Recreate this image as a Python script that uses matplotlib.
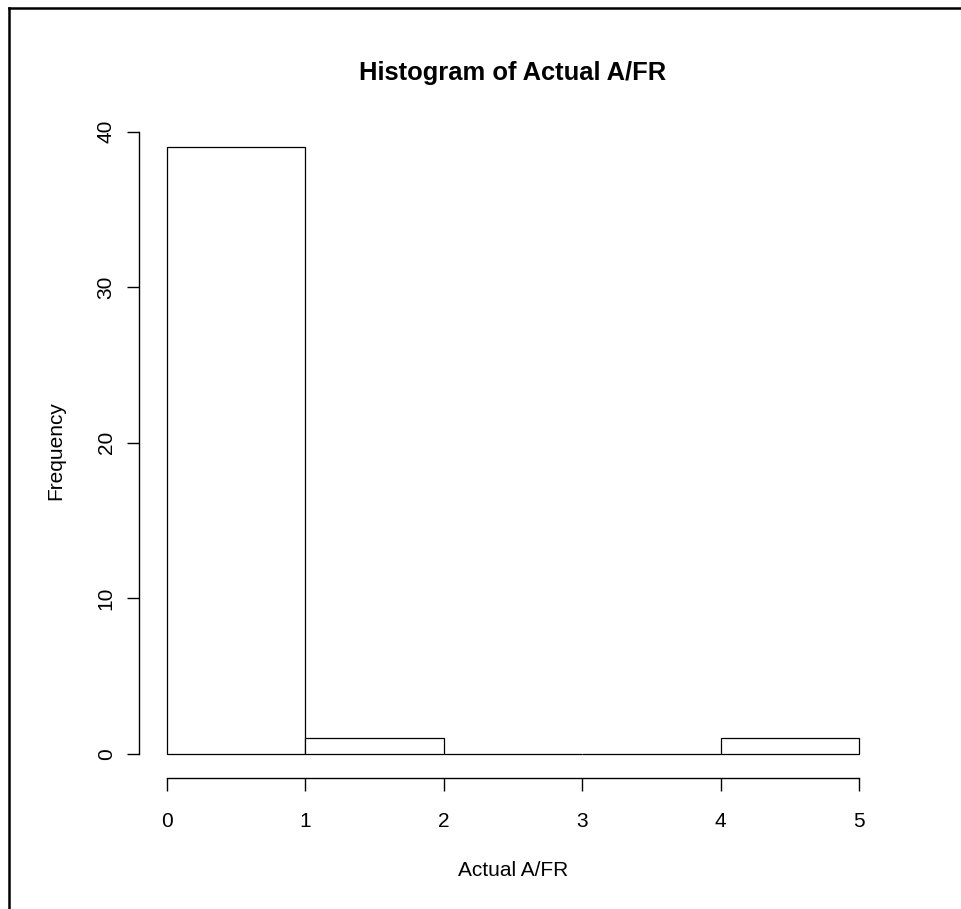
import matplotlib
matplotlib.use("Agg")
import matplotlib.pyplot as plt
from matplotlib.lines import Line2D

# histogram data
bin_edges = [0, 1, 2, 3, 4, 5]
counts = [39, 1, 0, 0, 1]
x_ticks = [0, 1, 2, 3, 4, 5]
y_ticks = [0, 10, 20, 30, 40]

plt.rcParams['font.family'] = ['Liberation Sans', 'DejaVu Sans']

fig = plt.figure(figsize=(9.61, 9.09), dpi=100)
ax = fig.add_axes([0.1450, 0.1438, 0.7777, 0.7210])

lefts = bin_edges[:-1]
widths = [b - a for a, b in zip(bin_edges[:-1], bin_edges[1:])]
ax.bar(lefts, counts, width=widths, align='edge', facecolor='white',
       edgecolor='black', linewidth=0.9)

# R style: 4% padding, detached axes
ax.set_xlim(-0.2, 5.2)
ax.set_ylim(-1.56, 40.56)
for s in ['top', 'right']:
    ax.spines[s].set_visible(False)
ax.spines['bottom'].set_bounds(0, 5)
ax.spines['left'].set_bounds(0, 40)
for s in ['bottom', 'left']:
    ax.spines[s].set_linewidth(1.0)

ax.set_xticks(x_ticks)
ax.set_yticks(y_ticks)
ax.tick_params(axis='both', direction='out', length=9, width=1.0, labelsize=15)
ax.tick_params(axis='x', pad=15.5)
ax.tick_params(axis='y', pad=8)
for lab in ax.get_yticklabels():
    lab.set_rotation(90)
    lab.set_va('center')

ax.set_xlabel('Actual A/FR', fontsize=15, va='center')
ax.xaxis.set_label_coords(0.5, -0.140)
ax.set_ylabel('Frequency', fontsize=15, va='center')
ax.yaxis.set_label_coords(-0.1115, 0.5)
ax.text(0.5, 1.0655, 'Histogram of Actual A/FR', fontsize=18.4,
        fontweight='bold', ha='center', va='baseline', transform=ax.transAxes)

# border lines (left and top) around the image
fig.add_artist(Line2D([9 / 961, 9 / 961], [0, 1 - 7.8 / 909],
                      transform=fig.transFigure, color='black', linewidth=1.8))
fig.add_artist(Line2D([9 / 961, 1], [1 - 7.8 / 909, 1 - 7.8 / 909],
                      transform=fig.transFigure, color='black', linewidth=1.8))

fig.savefig('out.png', dpi=100)
